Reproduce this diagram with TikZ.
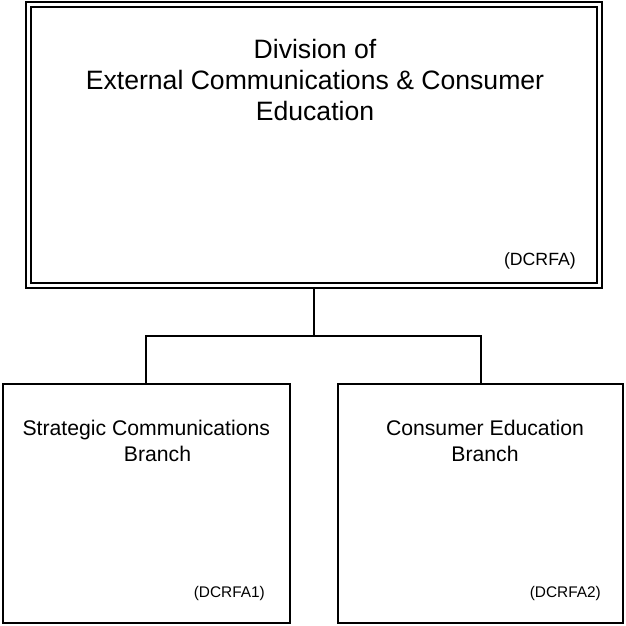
\documentclass[tikz,border=0pt]{standalone}
\usepackage{fontspec}
\setmainfont{Liberation Sans}
\begin{document}
\begin{tikzpicture}[x=1pt,y=-1pt,
  box/.style={draw, line width=2pt, rectangle, inner sep=0pt},
  dbox/.style={draw, line width=2pt, double, double distance=3pt, rectangle, inner sep=0pt, outer sep=3.5pt},
  conn/.style={line width=2pt},
  ttl/.style={font=\fontsize{26.6}{30.6}\selectfont, align=center, inner sep=0pt, anchor=base},
  br/.style={font=\fontsize{21.2}{26}\selectfont, align=center, inner sep=0pt, anchor=base},
  code/.style={inner sep=0pt, anchor=base east}]
\useasboundingbox (0,0) rectangle (625,626);
\node[dbox, minimum width=570.7pt, minimum height=280.8pt] (top) at (313.85,145.4) {};
\node[box, minimum width=287.5pt, minimum height=239pt] (L) at (146.25,503.8) {};
\node[box, minimum width=284.7pt, minimum height=239.5pt] (R) at (480.65,503.6) {};
\coordinate (bus) at (313.85,336);
\draw[conn] (top.south) -- (bus);
\draw[conn] (L.north) |- (bus) -| (R.north);
\node[ttl] (title) at (315,120) {Division of\\External Communications \& Consumer\\Education};
\node[code, font=\fontsize{17.7}{20}\selectfont] (c0) at (576,265.7) {(DCRFA)};
\node[br] (t1) at (146.3,461) {Strategic Communications\\\hspace*{22.4pt}Branch};
\node[br] (t2) at (485,461) {Consumer Education\\Branch};
\node[code, font=\fontsize{15.4}{18}\selectfont] (c1) at (265,597.5) {(DCRFA1)};
\node[code, font=\fontsize{15.4}{18}\selectfont] (c2) at (601,597.5) {(DCRFA2)};
\end{tikzpicture}
\end{document}
